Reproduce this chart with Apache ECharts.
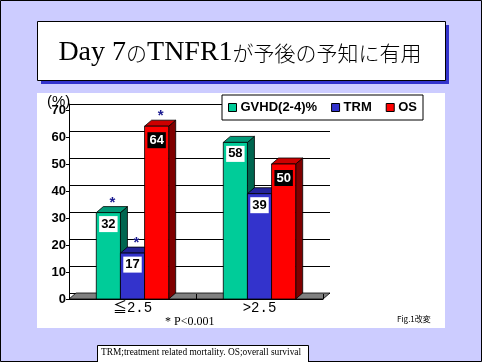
<!DOCTYPE html>
<html>
<head>
<meta charset="utf-8">
<script src="https://cdn.jsdelivr.net/npm/echarts@6/dist/echarts.min.js"></script>
<style>
html,body{margin:0;padding:0;background:#CCCCFF;}
#c{width:482px;height:362px;}
</style>
</head>
<body>
<div id="c"></div>
<script>
const categories = ['≦2.5', '>2.5'];
const seriesNames = ['GVHD(2-4)%', 'TRM', 'OS'];
const gvhdValues = [32, 58];
const trmValues = [17, 39];
const osValues = [64, 50];
const pValueStars = ['*', ''];
const yMin = 0, yMax = 70, yStep = 10;

const frontColors = ['#00CC99', '#3333CC', '#FF0000'];
const topColors = ['#009977', '#222299', '#CC0000'];
const sideColors = ['#006650', '#1A1A80', '#800000'];
const labelBg = ['#FFFFFF', '#FFFFFF', '#000000'];
const labelFg = ['#000000', '#000000', '#FFFFFF'];
const DX = 7, DY = 6;

const chart = echarts.init(document.getElementById('c'), null, {renderer: 'canvas'});

function barRenderer(sIdx) {
  return function (params, api) {
    const ci = api.value(0), v = api.value(1);
    const base = api.coord([ci, 0]);
    const tp = api.coord([ci, v]);
    const band = api.size([1, 0])[0];
    const w = band * 0.19;
    const x = base[0] + (sIdx - 1) * w - w / 2;
    const y0 = base[1], y1 = tp[1];
    const stroke = {stroke: '#000', lineWidth: 0.8};
    const children = [
      {type: 'polygon', shape: {points: [[x + w, y1], [x + w + DX, y1 - DY], [x + w + DX, y0 - DY], [x + w, y0]]},
       style: Object.assign({fill: sideColors[sIdx]}, stroke)},
      {type: 'polygon', shape: {points: [[x, y1], [x + w, y1], [x + w + DX, y1 - DY], [x + DX, y1 - DY]]},
       style: Object.assign({fill: topColors[sIdx]}, stroke)},
      {type: 'rect', shape: {x: x, y: y1, width: w, height: y0 - y1},
       style: Object.assign({fill: frontColors[sIdx]}, stroke)},
      {type: 'text', style: {text: String(v), x: x + w / 2, y: y1 + (sIdx === 2 ? 14 : 11.5),
        align: 'center', verticalAlign: 'middle', fill: labelFg[sIdx], backgroundColor: labelBg[sIdx],
        padding: [2, 2, 1, 2], fontSize: 13, fontWeight: 'bold', fontFamily: 'Liberation Sans, Arial'}}
    ];
    if (pValueStars[ci]) {
      children.push({type: 'text', style: {text: pValueStars[ci], x: x + w / 2 + 4, y: y1 - 10,
        align: 'center', verticalAlign: 'middle', fill: '#1A1A90', fontSize: 15, fontWeight: 'bold',
        fontFamily: 'Liberation Sans, Arial'}});
    }
    return {type: 'group', children: children};
  };
}

function toData(vals) { return vals.map((v, i) => [i, v]); }
const valueSets = [gvhdValues, trmValues, osValues];

const barSeries = seriesNames.map((name, s) => ({
  name: name,
  type: 'custom',
  xAxisIndex: 0, yAxisIndex: 0,
  z: 5,
  itemStyle: {color: frontColors[s]},
  renderItem: barRenderer(s),
  data: toData(valueSets[s])
}));

const floorSeries = {
  name: 'floor',
  type: 'custom',
  xAxisIndex: 0, yAxisIndex: 0,
  z: 3,
  silent: true,
  renderItem: function (params, api) {
    const cs = params.coordSys;
    const yb = cs.y + cs.height, x0 = cs.x, x1 = cs.x + cs.width;
    return {type: 'polygon', shape: {points: [[x0, yb], [x1, yb], [x1 + DX, yb - DY], [x0 + DX, yb - DY]]},
      style: {fill: '#808080', stroke: '#000', lineWidth: 0.8}};
  },
  data: [[0, 0]]
};

const option = {
  animation: false,
  backgroundColor: '#CCCCFF',
  color: frontColors,
  grid: [
    {left: 69, top: 110, width: 254, height: 189},
    {left: 69, top: 104, width: 261, height: 189}
  ],
  xAxis: [
    {gridIndex: 0, type: 'category', data: categories,
     axisLine: {show: true, lineStyle: {color: '#000', width: 1}},
     axisTick: {show: true, inside: true, length: 5, lineStyle: {color: '#000'}},
     axisLabel: {color: '#000', fontSize: 14, fontFamily: 'Liberation Mono, Noto Sans CJK JP', margin: 2},
     z: 4},
    {gridIndex: 1, type: 'category', data: categories, show: false}
  ],
  yAxis: [
    {gridIndex: 0, type: 'value', min: yMin, max: yMax, interval: yStep,
     axisLine: {show: true, lineStyle: {color: '#000', width: 1}},
     axisTick: {show: true, length: 3, lineStyle: {color: '#000'}},
     splitLine: {show: false},
     axisLabel: {color: '#000', fontSize: 13, fontWeight: 'bold', fontFamily: 'Liberation Sans, Arial', margin: 3}},
    {gridIndex: 1, type: 'value', min: yMin, max: yMax, interval: yStep,
     axisLine: {show: true, lineStyle: {color: '#000', width: 1}},
     axisTick: {show: false},
     axisLabel: {show: false},
     splitLine: {show: true, lineStyle: {color: '#000', width: 1}}}
  ],
  legend: {
    data: seriesNames,
    left: 222, top: 95,
    orient: 'horizontal',
    backgroundColor: '#FFFFFF',
    borderColor: '#000', borderWidth: 1, borderRadius: 0,
    padding: [6, 6, 6, 6],
    itemGap: 14, itemWidth: 8, itemHeight: 8,
    icon: 'rect',
    itemStyle: {borderColor: '#000', borderWidth: 1},
    textStyle: {color: '#000', fontSize: 13, fontWeight: 'bold', fontFamily: 'Liberation Sans, Arial', padding: [0, 0, 0, -1]}
  },
  graphic: [
    {type: 'rect', z: -10, shape: {x: 0.5, y: 0.5, width: 481, height: 361}, style: {fill: '#CCCCFF', stroke: '#000', lineWidth: 1}},
    {type: 'rect', z: -9, shape: {x: 41, y: 25, width: 408, height: 59}, style: {fill: '#3333CC'}},
    {type: 'rect', z: -8, shape: {x: 37.5, y: 21.5, width: 408, height: 59}, style: {fill: '#FFFFFF', stroke: '#000', lineWidth: 1}},
    {type: 'text', z: -7, x: 240, y: 53, style: {
      text: '{a|Day 7}{j|の}{a|TNFR1}{j|が予後の予知に有用}',
      align: 'center', verticalAlign: 'middle',
      rich: {
        a: {fontFamily: 'Liberation Serif, Times New Roman', fontSize: 28, fill: '#000'},
        j: {fontFamily: 'Noto Sans CJK JP', fontSize: 21, fill: '#000', fontWeight: 300}
      }}},
    {type: 'rect', z: -8, shape: {x: 37, y: 93, width: 408, height: 235}, style: {fill: '#FFFFFF'}},
    {type: 'text', z: 10, x: 47, y: 94, style: {text: '(%)', fill: '#000', fontSize: 15, fontFamily: 'Liberation Sans, Arial'}},
    {type: 'text', z: 10, x: 165, y: 316, style: {text: '* P<0.001', fill: '#000', fontSize: 12, fontFamily: 'Liberation Serif, Times New Roman'}},
    {type: 'text', z: 10, x: 397, y: 315, style: {text: 'Fig.1改変', fill: '#000', fontSize: 8, fontFamily: 'Noto Sans CJK JP'}},
    {type: 'rect', z: 10, shape: {x: 97.5, y: 345.5, width: 211, height: 20}, style: {fill: '#FFFFFF', stroke: '#000', lineWidth: 1}},
    {type: 'text', z: 11, x: 101, y: 348, style: {text: 'TRM;treatment related mortality. OS;overall survival', fill: '#000', fontSize: 9.4, fontFamily: 'Liberation Serif, Times New Roman'}}
  ],
  series: [floorSeries].concat(barSeries)
};
chart.setOption(option);
</script>
</body>
</html>
